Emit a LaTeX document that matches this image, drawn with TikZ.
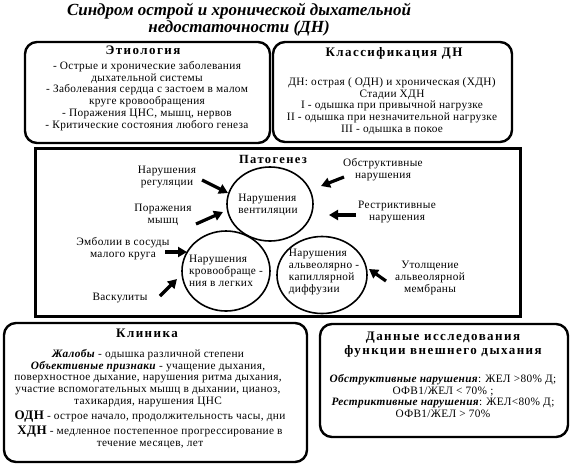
\documentclass[tikz,border=0pt]{standalone}
\usepackage{fontspec}
\setmainfont{Liberation Serif}
\newfontfamily\headfam[LetterSpace=11]{Liberation Serif}
\newfontfamily\bodyfam[LetterSpace=3]{Liberation Serif}
\usetikzlibrary{shapes.geometric,arrows.meta}
\newcommand\bodyf{\bodyfam\fontsize{11.3}{11.7}\selectfont}
\newcommand\headf{\headfam\bfseries\fontsize{13}{14}\selectfont}
\tikzset{
  rbox/.style={draw, line width=2.4pt, rounded corners=12pt},
  pbox/.style={draw, line width=3pt},
  txt/.style={font=\bodyf, align=center, inner sep=0pt},
  ltxt/.style={font=\bodyf, align=left, inner sep=0pt},
  headtxt/.style={font=\headf, align=center, inner sep=0pt},
  oval/.style={draw, ellipse, line width=1.6pt, inner sep=0pt},
  arr/.style={line width=3.2pt, -{Triangle[length=9pt,width=10pt]}},
}
\begin{document}
\begin{tikzpicture}[x=1pt,y=-1pt]
\useasboundingbox (0,0) rectangle (576,467);
% title
\node[inner sep=0pt, align=center, font=\fontsize{17}{17}\selectfont\bfseries\itshape] (title) at (239,20)
  {Синдром острой и хронической дыхательной\\недостаточности (ДН)};

% Etiology
\draw[rbox] (25,42) rectangle (270,143);
\node[headtxt] (eth) at (143,50) {Этиология};
\node[txt] (ethb) at (147,96) {- Острые и хронические заболевания\\дыхательной системы\\- Заболевания сердца с застоем в малом\\круге кровообращения\\- Поражения ЦНС, мышц, нервов\\- Критические состояния любого генеза};

% Classification
\draw[rbox] (273,42) rectangle (512,142);
\node[headtxt] (cls) at (394,53) {Классификация ДН};
\node[txt] (clsb) at (392,106) {ДН: острая ( ОДН) и хроническая (ХДН)\\Стадии ХДН\\I - одышка при привычной нагрузке\\II - одышка при незначительной нагрузке\\III - одышка в покое};

% Pathogenesis
\draw[pbox] (35,148) rectangle (520,316);
\node[headtxt, font=\headfam\bfseries\fontsize{12.5}{13}\selectfont] (pat) at (273,159) {Патогенез};

\node[oval, minimum width=86pt, minimum height=74pt] (vent) at (270,204) {};
\node[ltxt] (ventt) at (268,205) {Нарушения\\вентиляции};
\node[oval, minimum width=88pt, minimum height=80pt] (circ) at (226,271) {};
\node[ltxt] (circt) at (226,271) {Нарушения\\кровообраще -\\ния в легких};
\node[oval, minimum width=90pt, minimum height=77pt] (diff) at (322,275) {};
\node[ltxt] (difft) at (324,272) {Нарушения\\альвеолярно -\\капиллярной\\диффузии};

\node[txt] (reg) at (167,177) {Нарушения\\регуляции};
\node[txt] (mus) at (163,215) {Поражения\\мышц};
\node[txt] (emb) at (123,249) {Эмболии в сосуды\\малого круга};
\node[txt] (vas) at (120,298) {Васкулиты};
\node[txt] (obs) at (383,170) {Обструктивные\\нарушения};
\node[txt] (res) at (397,212) {Рестриктивные\\нарушения};
\node[txt] (thk) at (430,278) {Утолщение\\альвеолярной\\мембраны};

\coordinate (a1s) at (202,180); \coordinate (a1e) at (228,193);
\coordinate (a2s) at (196,224); \coordinate (a2e) at (223,212);
\coordinate (a3s) at (165,252); \coordinate (a3e) at (187,252);
\coordinate (a4s) at (160,296); \coordinate (a4e) at (177,279);
\coordinate (a5s) at (344,177); \coordinate (a5e) at (321,186);
\coordinate (a6s) at (356,215); \coordinate (a6e) at (329,215);
\coordinate (a7s) at (386,281); \coordinate (a7e) at (369,269);
\foreach \i in {1,...,7} \draw[arr] (a\i s) -- (a\i e);

% Clinic
\draw[rbox] (4,323) rectangle (307,462);
\node[headtxt] (cli) at (147,333) {Клиника};
\node[txt] (clib) at (148,378) {\textbf{\textit{Жалобы}} - одышка различной степени\\\textbf{\textit{Объективные признаки}} - учащение дыхания,\\поверхностное дыхание, нарушения ритма дыхания,\\участие вспомогательных мышц в дыхании, цианоз,\\тахикардия, нарушения ЦНС};
\node[txt] (odn) at (150,417) {{\bfseries\fontsize{13}{14}\selectfont ОДН} - острое начало, продолжительность часы, дни};
\node[txt] (hdn) at (150,437) {{\bfseries\fontsize{13}{14}\selectfont ХДН} - медленное постепенное прогрессирование в\\течение месяцев, лет};

% Function data
\draw[rbox] (320,324) rectangle (568,437);
\node[headtxt] (fvd) at (443,345) {Данные исследования\\функции внешнего дыхания};
\node[txt] (fvdb) at (443,396) {\textbf{\textit{Обструктивные нарушения}}: ЖЕЛ >80\% Д;\\ОФВ1/ЖЕЛ < 70\% ;\\\textbf{\textit{Рестриктивные нарушения}}: ЖЕЛ<80\% Д;\\ОФВ1/ЖЕЛ > 70\%};
\end{tikzpicture}
\end{document}
